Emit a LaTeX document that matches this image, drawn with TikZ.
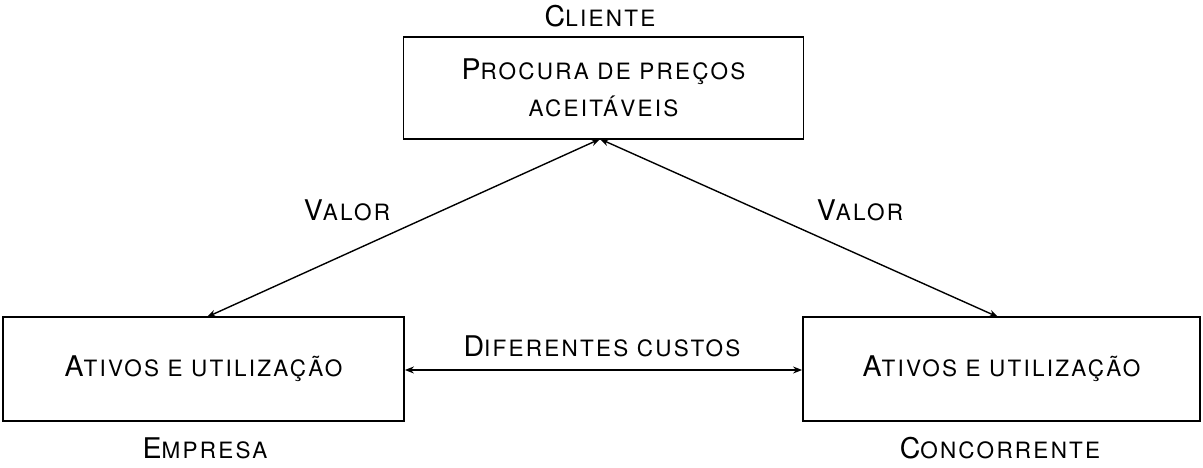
\documentclass[tikz,border=0pt]{standalone}
\usepackage{fontspec}
\setmainfont{TeX Gyre Heros}[LetterSpace=10]
\newcommand\FakeSC[2]{{\fontsize{28.5}{37}\selectfont #1}{\fontsize{22.5}{37}\selectfont #2}}
\newcommand\SmallPart[1]{{\fontsize{22.5}{37}\selectfont #1}}
\usetikzlibrary{arrows.meta}
\begin{document}
\begin{tikzpicture}[x=1pt,y=-1pt,
  box/.style={draw,line width=1.8pt,minimum width=#1,inner sep=0pt,align=center,font=\fontsize{22.5}{37}\selectfont},
  lbl/.style={inner sep=0pt},
  conn/.style={line width=1.4pt,{Stealth[length=9pt,width=7pt]}-{Stealth[length=9pt,width=7pt]}}]
\useasboundingbox (0,0) rectangle (1203,468);
\node[box=400pt,minimum height=102pt] (top) at (603.5,88) {\FakeSC{P}{ROCURA DE PREÇOS}\\\SmallPart{ACEITÁVEIS}};
\node[box=401pt,minimum height=104pt] (left) at (203.5,369) {\FakeSC{A}{TIVOS E UTILIZAÇÃO}};
\node[box=397pt,minimum height=104pt] (right) at (1001.5,369) {\FakeSC{A}{TIVOS E UTILIZAÇÃO}};
\coordinate (tb) at (600,139);
\coordinate (lt) at (207,317);
\coordinate (rt) at (998,317);
\draw[conn] (lt) -- (tb);
\draw[conn] (tb) -- (rt);
\draw[conn] (left.east |- 0,370) -- (right.west |- 0,370);
\node[lbl] (cli) at (600,16) {\FakeSC{C}{LIENTE}};
\node[lbl] (v1) at (347,210) {\FakeSC{V}{ALOR}};
\node[lbl] (v2) at (860,210) {\FakeSC{V}{ALOR}};
\node[lbl] (dc) at (602,346) {\FakeSC{D}{IFERENTES CUSTOS}};
\node[lbl] (emp) at (205,448) {\FakeSC{E}{MPRESA}};
\node[lbl] (con) at (1000,448) {\FakeSC{C}{ONCORRENTE}};
\end{tikzpicture}
\end{document}
